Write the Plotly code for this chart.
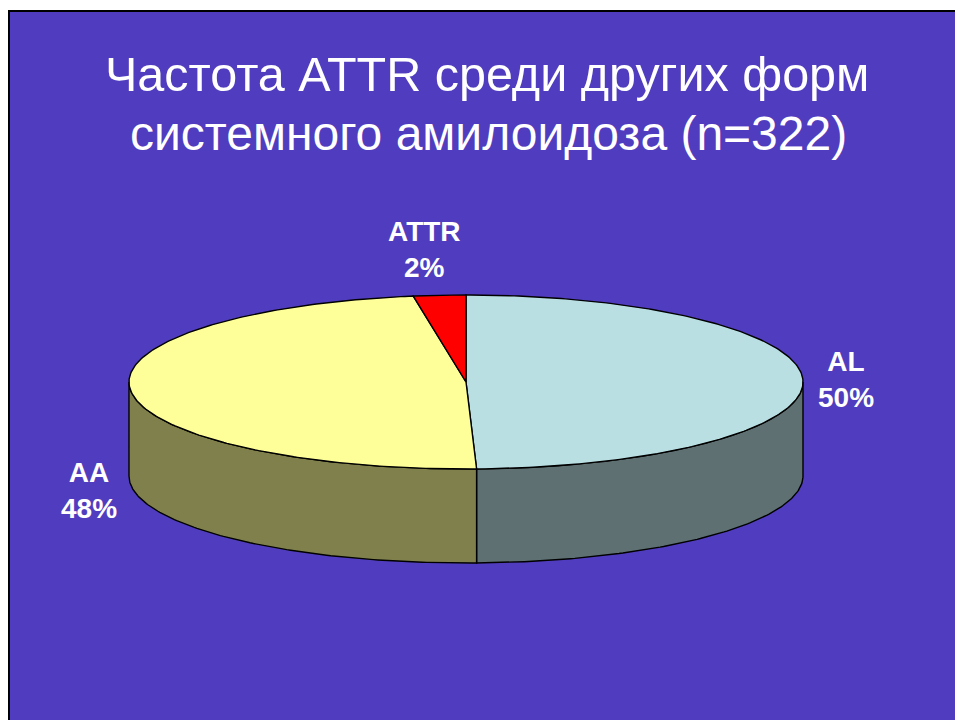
import numpy as np
import plotly.graph_objects as go

# Data
categories = ["AL", "AA", "ATTR"]
slice_values = [49.5, 48.0, 2.5]      # drawn shares
percent_labels = ["50%", "48%", "2%"]  # printed labels
top_colors = ["#B9DFE3", "#FFFF99", "#FF0000"]
side_colors = ["#5E7072", "#80804D", "#800000"]
title_lines = ["Частота ATTR среди других форм", "системного амилоидоза (n=322)"]

# Layout constants
W, H = 955, 720
BG = "#503CBE"
CX, CY, RX, RY, DEPTH = 466, 382, 337, 87, 94
FONT = "Liberation Sans"


def rim(a_deg, drop=0.0):
    a = np.radians(a_deg)
    return CX + RX * np.sin(a), CY - RY * np.cos(a) + drop


fig = go.Figure()
total = sum(slice_values)
edges = np.concatenate([[0], np.cumsum(slice_values)]) / total * 360

# Side walls: only the front half (90..270 degrees clockwise from 12 o'clock)
for i, cat in enumerate(categories):
    lo, hi = max(edges[i], 90), min(edges[i + 1], 270)
    if hi <= lo:
        continue
    a = np.linspace(lo, hi, 120)
    x1, y1 = rim(a)
    x2, y2 = rim(a[::-1], DEPTH)
    fig.add_trace(go.Scatter(
        x=np.r_[x1, x2, x1[0]], y=np.r_[y1, y2, y1[0]], mode="lines", fill="toself",
        fillcolor=side_colors[i], line=dict(color="black", width=1.4),
        hoverinfo="skip", showlegend=False))

# Top faces
for i, cat in enumerate(categories):
    a = np.linspace(edges[i], edges[i + 1], 240)
    x, y = rim(a)
    fig.add_trace(go.Scatter(
        x=np.r_[CX, x, CX], y=np.r_[CY, y, CY], mode="lines", fill="toself",
        fillcolor=top_colors[i], line=dict(color="black", width=1.4),
        name=cat, hoverinfo="skip", showlegend=False))

# Data labels
label_pos = {"AL": (845.5, 379.5), "AA": (89, 490), "ATTR": (424, 249.5)}
for cat, pct in zip(categories, percent_labels):
    lx, ly = label_pos[cat]
    fig.add_annotation(x=lx, y=ly, text=f"<b>{cat}<br>{pct}</b>", showarrow=False,
                       font=dict(family=FONT, size=28, color="white"), align="center",
                       xanchor="center", yanchor="middle")

# Title lines
for line, tx, ty, ts in zip(title_lines, (486.5, 488.5), (74, 133), (48.5, 48)):
    fig.add_annotation(x=tx, y=ty, text=line, showarrow=False,
                       font=dict(family=FONT, size=ts, color="white"),
                       xanchor="center", yanchor="middle")

fig.update_layout(
    width=W, height=H, margin=dict(l=0, r=0, t=0, b=0), autosize=False,
    paper_bgcolor="white", plot_bgcolor="white", showlegend=False,
    xaxis=dict(range=[0, W], visible=False, fixedrange=True),
    yaxis=dict(range=[H, 0], visible=False, fixedrange=True),
    shapes=[dict(type="rect", layer="below", xref="x", yref="y", x0=9, y0=11, x1=W + 20, y1=H + 20,
                 fillcolor=BG, line=dict(color="black", width=2))],
)
fig.write_html("out.html", config={"displayModeBar": False},
               post_script="document.body.style.margin='0';document.body.style.overflow='hidden';")
